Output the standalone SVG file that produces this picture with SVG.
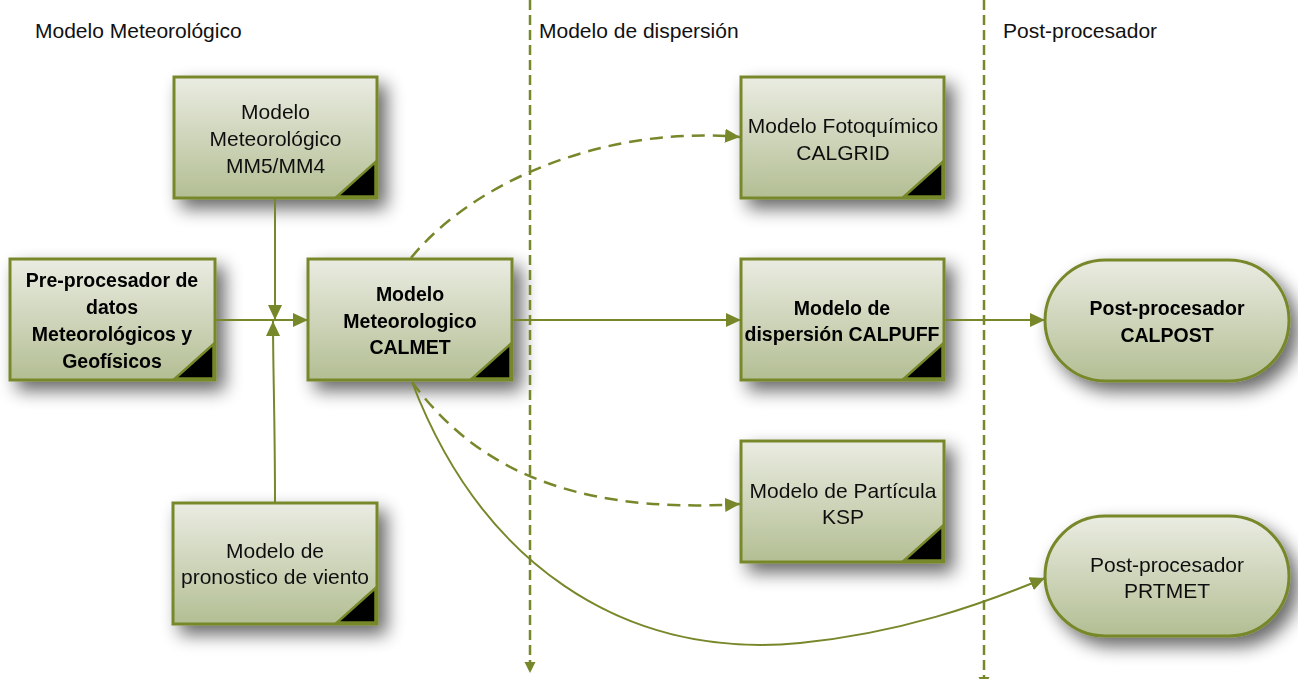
<svg xmlns="http://www.w3.org/2000/svg" width="1298" height="679" viewBox="0 0 1298 679">
<defs>
<linearGradient id="g" x1="0" y1="0" x2="0" y2="1">
<stop offset="0" stop-color="#eaece2"/>
<stop offset="1" stop-color="#b3be93"/>
</linearGradient>
<filter id="sh" x="-20%" y="-20%" width="150%" height="160%">
<feGaussianBlur in="SourceAlpha" stdDeviation="9"/>
<feOffset dx="8" dy="9" result="b"/>
<feComponentTransfer><feFuncA type="linear" slope="0.6"/></feComponentTransfer>
<feMerge><feMergeNode/><feMergeNode in="SourceGraphic"/></feMerge>
</filter>
<marker id="ah" markerUnits="userSpaceOnUse" markerWidth="16" markerHeight="14" refX="15" refY="7" orient="auto">
<path d="M0,0 L15,7 L0,14 Z" fill="#76882a"/>
</marker>
<marker id="av" markerUnits="userSpaceOnUse" markerWidth="12" markerHeight="12" refX="11" refY="5.5" orient="auto">
<path d="M0,0 L11,5.5 L0,11 Z" fill="#76882a"/>
</marker>
</defs>
<style>
.box{fill:url(#g);stroke:#76882a;stroke-width:3}
.cor{fill:#000;stroke:#76882a;stroke-width:2.5}
.t{font-family:"Liberation Sans",Arial,sans-serif;font-size:21px;fill:#111;text-anchor:middle}
.b{font-family:"Liberation Sans",Arial,sans-serif;font-size:19.5px;font-weight:bold;fill:#000;text-anchor:middle}
.h{font-family:"Liberation Sans",Arial,sans-serif;font-size:21px;fill:#111}
.c{fill:none;stroke:#76882a;stroke-width:2}
.d{fill:none;stroke:#76882a;stroke-width:2.5;stroke-dasharray:13 8}
.v{fill:none;stroke:#76882a;stroke-width:2.5;stroke-dasharray:10 5}
</style>
<rect width="1298" height="679" fill="#fff"/>

<g id="headers">
<text class="h" x="35" y="38">Modelo Meteorológico</text>
<text class="h" x="539" y="38">Modelo de dispersión</text>
<text class="h" x="1003" y="38">Post-procesador</text>
</g>

<g id="n-mm5" filter="url(#sh)">
<rect class="box" x="174" y="77" width="203" height="121"/>
<path class="cor" d="M375.5,162 L375.5,196.5 L337,196.5 Z"/>
<text class="t" x="275.5" y="119">Modelo</text>
<text class="t" x="275.5" y="146">Meteorológico</text>
<text class="t" x="275.5" y="173">MM5/MM4</text>
</g>

<g id="n-pre" filter="url(#sh)">
<rect class="box" x="10" y="259" width="205" height="121"/>
<path class="cor" d="M213.5,344 L213.5,378.5 L175,378.5 Z"/>
<text class="b" x="112" y="287">Pre-procesador de</text>
<text class="b" x="112" y="314">datos</text>
<text class="b" x="112" y="341">Meteorológicos y</text>
<text class="b" x="112" y="368">Geofísicos</text>
</g>

<g id="n-calmet" filter="url(#sh)">
<rect class="box" x="308" y="259" width="204" height="121"/>
<path class="cor" d="M510.5,344 L510.5,378.5 L472,378.5 Z"/>
<text class="b" x="410" y="301">Modelo</text>
<text class="b" x="410" y="328">Meteorologico</text>
<text class="b" x="410" y="354">CALMET</text>
</g>

<g id="n-pron" filter="url(#sh)">
<rect class="box" x="173" y="503" width="204" height="121"/>
<path class="cor" d="M375.5,588 L375.5,622.5 L337,622.5 Z"/>
<text class="t" x="275" y="558">Modelo de</text>
<text class="t" x="275" y="584">pronostico de viento</text>
</g>

<g id="n-calgrid" filter="url(#sh)">
<rect class="box" x="741" y="77" width="203" height="121"/>
<path class="cor" d="M942.5,162 L942.5,196.5 L904,196.5 Z"/>
<text class="t" x="843" y="133">Modelo Fotoquímico</text>
<text class="t" x="843" y="160">CALGRID</text>
</g>

<g id="n-calpuff" filter="url(#sh)">
<rect class="box" x="741" y="259" width="203" height="121"/>
<path class="cor" d="M942.5,344 L942.5,378.5 L904,378.5 Z"/>
<text class="b" x="842" y="315">Modelo de</text>
<text class="b" x="842" y="341">dispersión CALPUFF</text>
</g>

<g id="n-ksp" filter="url(#sh)">
<rect class="box" x="741" y="441" width="203" height="121"/>
<path class="cor" d="M942.5,526 L942.5,560.5 L904,560.5 Z"/>
<text class="t" x="843" y="498">Modelo de Partícula</text>
<text class="t" x="843" y="524">KSP</text>
</g>

<g id="n-calpost" filter="url(#sh)">
<rect class="box" x="1045" y="260" width="244" height="121" rx="60.5" ry="60.5"/>
<text class="b" x="1167" y="315">Post-procesador</text>
<text class="b" x="1167" y="342">CALPOST</text>
</g>

<g id="n-prtmet" filter="url(#sh)">
<rect class="box" x="1045" y="516" width="244" height="120" rx="60" ry="60"/>
<text class="t" x="1167" y="572">Post-procesador</text>
<text class="t" x="1167" y="598">PRTMET</text>
</g>

<g id="connectors">
<path class="v" d="M530,0 L530,673" marker-end="url(#av)"/>
<path class="v" d="M984,0 L984,688" marker-end="url(#av)"/>
<path class="c" d="M275,198 L275,320" marker-end="url(#ah)"/>
<path class="c" d="M275,503 C275,420 273,370 273,321" marker-end="url(#ah)"/>
<path class="c" d="M215,320 L308,320" marker-end="url(#ah)"/>
<path class="c" d="M512,320 L741,320" marker-end="url(#ah)"/>
<path class="c" d="M944,320 L1045,320" marker-end="url(#ah)"/>
<path class="d" d="M411,258 C470,185 600,125 740,137" marker-end="url(#ah)"/>
<path class="d" d="M412,382 C470,460 560,515 740,504" marker-end="url(#ah)"/>
<path class="c" d="M412,382 C480,560 620,660 800,643 C900,633 980,605 1045,578" marker-end="url(#ah)"/>
</g>
</svg>
